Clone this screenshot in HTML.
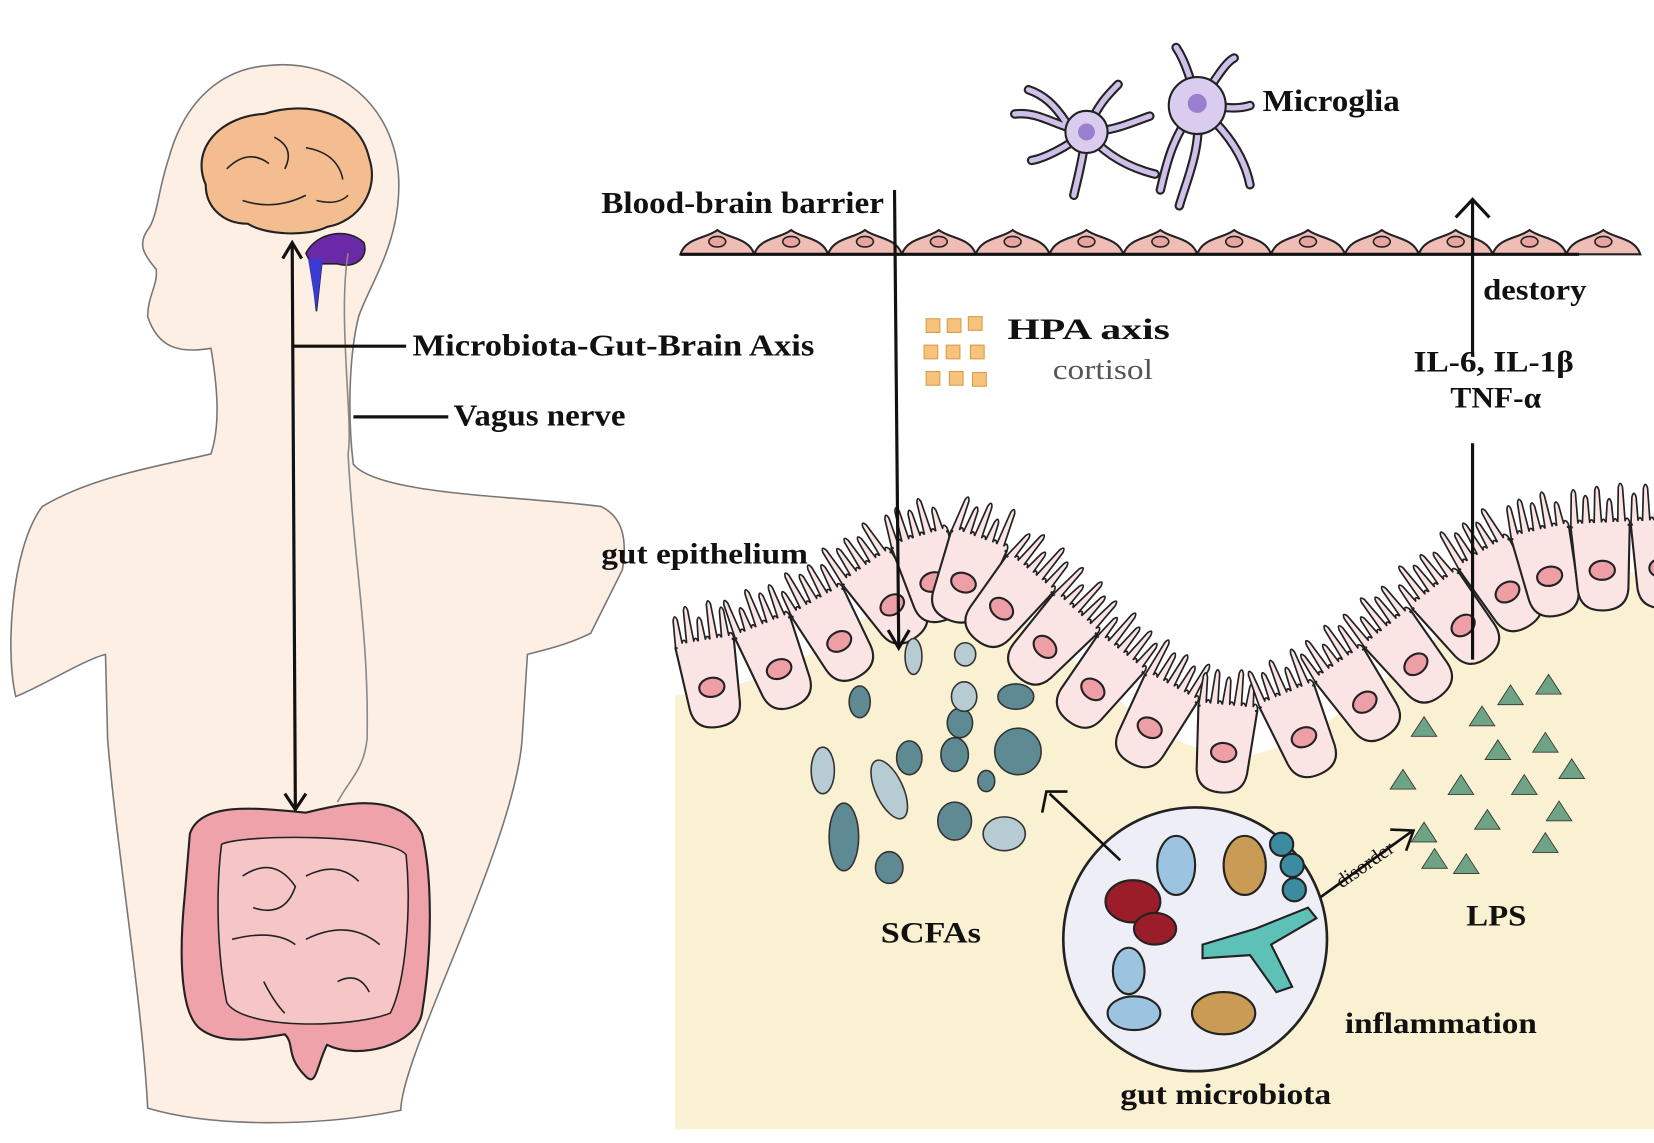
<!DOCTYPE html>
<html><head><meta charset="utf-8"><style>
html,body{margin:0;padding:0;background:#fff}
svg{display:block}
text{font-family:"Liberation Serif",serif;font-weight:bold;fill:#111}
</style></head><body>
<svg id="s" width="1654" height="1143" viewBox="0 0 1568 1083" preserveAspectRatio="none" xmlns="http://www.w3.org/2000/svg">
<rect width="1568" height="1083" fill="#fff"/>
<path d="M255,62 C320,55 375,100 378,170 C380,230 350,270 340,300 C330,340 330,400 335,440 C360,470 500,470 570,480 C590,490 595,510 590,540 L560,600 C540,610 520,615 500,620 L495,700 C488,800 380,1000 380,1052 C300,1068 200,1068 140,1050 C135,950 110,800 102,700 L100,620 C80,625 40,650 15,660 C5,620 10,520 40,480 C90,450 160,440 200,430 C210,400 205,360 200,330 C170,335 150,330 140,300 C140,280 150,270 148,255 C135,240 130,230 142,215 C150,200 150,180 160,150 C175,95 210,65 255,62 Z" fill="#fdefe3" stroke="#777" stroke-width="1.5"/>
<path d="M195,175 C180,140 210,110 250,108 C290,95 340,105 350,150 C360,180 340,210 310,215 C290,225 250,222 235,212 C210,212 195,195 195,175 Z" fill="#f3bd8f" stroke="#222" stroke-width="2"/>
<path d="M215,160 q20,-20 40,-5 M260,130 q20,10 10,30 M290,140 q30,5 35,30 M230,190 q30,10 60,-5 M300,190 q20,5 30,-5" fill="none" stroke="#222" stroke-width="1.5"/>
<path d="M290,240 C300,220 330,215 345,230 C350,245 335,255 320,250 L305,250 L300,295 L295,250 Z" fill="#6a2aa8" stroke="#222" stroke-width="1.5"/>
<path d="M292,245 L300,295 L306,245 Z" fill="#3a3ad0"/>
<path d="M330,240 C320,300 335,400 330,430 C335,530 350,600 348,700 C345,730 330,740 320,760" fill="none" stroke="#888" stroke-width="1.5"/>
<line x1="277" y1="232" x2="280" y2="765" stroke="#111" stroke-width="3"/>
<path d="M268,245 L277,230 L286,245 M270,752 L280,767 L290,752" fill="none" stroke="#111" stroke-width="3"/>
<line x1="278" y1="328" x2="385" y2="328" stroke="#111" stroke-width="3"/>
<line x1="335" y1="395" x2="425" y2="395" stroke="#111" stroke-width="3"/>
<text x="391" y="337" font-size="29" textLength="381" lengthAdjust="spacingAndGlyphs">Microbiota-Gut-Brain Axis</text>
<text x="430" y="403" font-size="29" textLength="163" lengthAdjust="spacingAndGlyphs">Vagus nerve</text>
<path d="M180,790 C190,760 240,765 290,770 C330,760 380,750 400,790 C410,830 410,900 400,960 C395,990 340,1005 310,990 C300,1010 300,1030 290,1020 C270,1000 280,990 270,980 C240,985 210,990 190,975 C170,960 170,900 175,850 Z" fill="#f0a2aa" stroke="#222" stroke-width="2"/>
<path d="M210,800 C230,790 370,790 385,810 C390,860 385,930 370,960 C330,975 230,975 215,950 C205,900 205,840 210,800 Z" fill="#f6c6c6" stroke="#222" stroke-width="1.5"/>
<path d="M230,830 q30,-20 50,10 q-10,30 -40,20 M290,830 q30,-15 50,5 M220,890 q40,-10 60,5 M290,890 q40,-20 70,5 M250,930 q10,20 20,30 M320,930 q20,-10 30,10" fill="none" stroke="#222" stroke-width="1.5"/>
<g id="epi"></g>
<g id="bbb"></g>
<line x1="645" y1="241" x2="1497" y2="241" stroke="#111" stroke-width="3"/>
<text x="570" y="202" font-size="29" textLength="268" lengthAdjust="spacingAndGlyphs">Blood-brain barrier</text>
<line x1="848" y1="180" x2="852" y2="612" stroke="#111" stroke-width="3"/>
<path d="M842,597 L852,614 L862,597" fill="none" stroke="#111" stroke-width="3"/>
<line x1="1396" y1="625" x2="1396" y2="420" stroke="#111" stroke-width="3"/>
<line x1="1396" y1="338" x2="1396" y2="190" stroke="#111" stroke-width="3"/>
<path d="M1380,206 L1396,189 L1412,206" fill="none" stroke="#111" stroke-width="3"/>
<text x="1406" y="284" font-size="28" textLength="98" lengthAdjust="spacingAndGlyphs">destory</text>
<text x="1340" y="352" font-size="28" textLength="152" lengthAdjust="spacingAndGlyphs">IL-6, IL-1β</text>
<text x="1375" y="386" font-size="28" textLength="86" lengthAdjust="spacingAndGlyphs">TNF-α</text>
<text x="1197" y="105" font-size="29" textLength="130" lengthAdjust="spacingAndGlyphs">Microglia</text>
<g fill="none" stroke="#222" stroke-width="9" stroke-linecap="round">
<path id="mg" d="M1030,125 C1000,120 985,105 962,108 M1010,115 C1000,100 990,90 975,85 M1030,125 C1040,100 1050,90 1060,80 M1030,125 C1055,125 1075,115 1090,110 M1030,125 C1010,140 990,150 978,152 M1030,125 C1050,150 1075,160 1095,165 M1030,125 C1025,160 1020,175 1018,185 M1135,100 C1110,130 1105,160 1100,180 M1135,100 C1140,140 1125,170 1118,195 M1135,100 C1165,125 1180,150 1185,175 M1135,100 C1130,80 1125,60 1115,45 M1135,100 C1150,80 1160,60 1170,55 M1135,100 C1155,100 1170,105 1185,100"/>
</g>
<use href="#mg" fill="none" stroke="#cfc0ea" stroke-width="5" stroke-linecap="round"/>
<circle cx="1030" cy="125" r="20" fill="#d9ccef" stroke="#222" stroke-width="2"/>
<circle cx="1135" cy="100" r="27" fill="#d9ccef" stroke="#222" stroke-width="2"/>
<circle cx="1030" cy="125" r="8" fill="#9b7fcf"/><circle cx="1135" cy="98" r="9" fill="#9b7fcf"/>
<g fill="#f7c27a" stroke="#d89a4a" stroke-width="1">
<rect x="878" y="302" width="13" height="13"/><rect x="898" y="302" width="13" height="13"/><rect x="918" y="300" width="13" height="13"/>
<rect x="876" y="327" width="13" height="13"/><rect x="897" y="327" width="13" height="13"/><rect x="920" y="327" width="13" height="13"/>
<rect x="878" y="352" width="13" height="13"/><rect x="900" y="352" width="13" height="13"/><rect x="922" y="353" width="13" height="13"/>
</g>
<text x="955" y="321" font-size="28" textLength="154" lengthAdjust="spacingAndGlyphs">HPA axis</text>
<text x="998" y="359" font-size="27" textLength="95" lengthAdjust="spacingAndGlyphs" style="font-weight:normal;fill:#555">cortisol</text>
<text x="570" y="534" font-size="28" textLength="196" lengthAdjust="spacingAndGlyphs">gut epithelium</text>
<g fill="#5e8a94" stroke="#333" stroke-width="1.5">
<ellipse cx="910" cy="685" rx="12" ry="14"/><ellipse cx="862" cy="718" rx="12" ry="16"/><ellipse cx="905" cy="715" rx="13" ry="16"/>
<ellipse cx="965" cy="712" rx="22" ry="22"/><ellipse cx="963" cy="660" rx="17" ry="12"/><ellipse cx="800" cy="793" rx="14" ry="32"/>
<ellipse cx="905" cy="778" rx="16" ry="18"/><ellipse cx="935" cy="740" rx="8" ry="10"/><ellipse cx="843" cy="822" rx="13" ry="15"/>
<ellipse cx="815" cy="665" rx="10" ry="15"/>
</g>
<g fill="#b7cbd2" stroke="#333" stroke-width="1.5">
<ellipse cx="866" cy="622" rx="8" ry="17"/><ellipse cx="915" cy="620" rx="10" ry="11"/>
<ellipse cx="914" cy="660" rx="12" ry="14"/><ellipse cx="780" cy="730" rx="11" ry="22"/><ellipse cx="843" cy="748" rx="13" ry="30" transform="rotate(-25 843 748)"/>
<ellipse cx="952" cy="790" rx="20" ry="16"/>
</g>
<text x="835" y="893" font-size="28" textLength="95" lengthAdjust="spacingAndGlyphs">SCFAs</text>
<g fill="#6fa386" stroke="#333" stroke-width="0.8" id="lps"></g>
<text x="1390" y="877" font-size="28" textLength="57" lengthAdjust="spacingAndGlyphs">LPS</text>
<circle cx="1133" cy="890" r="125" fill="#eeeef6" stroke="#222" stroke-width="2.5"/>
<ellipse cx="1074" cy="854" rx="26" ry="20" fill="#9b1d2a" stroke="#222" stroke-width="2"/>
<ellipse cx="1095" cy="880" rx="20" ry="15" fill="#9b1d2a" stroke="#222" stroke-width="2"/>
<ellipse cx="1115" cy="820" rx="18" ry="28" fill="#9cc4e0" stroke="#222" stroke-width="2"/>
<ellipse cx="1070" cy="920" rx="15" ry="22" fill="#9cc4e0" stroke="#222" stroke-width="2"/>
<ellipse cx="1075" cy="960" rx="25" ry="16" fill="#9cc4e0" stroke="#222" stroke-width="2"/>
<ellipse cx="1180" cy="820" rx="20" ry="28" fill="#c99b55" stroke="#222" stroke-width="2"/>
<ellipse cx="1160" cy="960" rx="30" ry="20" fill="#c99b55" stroke="#222" stroke-width="2"/>
<circle cx="1215" cy="800" r="11" fill="#3b8ca0" stroke="#222" stroke-width="2"/><circle cx="1225" cy="820" r="11" fill="#3b8ca0" stroke="#222" stroke-width="2"/><circle cx="1227" cy="843" r="11" fill="#3b8ca0" stroke="#222" stroke-width="2"/>
<path d="M1140,895 L1190,880 L1240,860 L1248,870 L1205,895 L1225,935 L1210,940 L1185,905 L1140,908 Z" fill="#5ec1b8" stroke="#222" stroke-width="2"/>
<text x="1062" y="1046" font-size="28" textLength="200" lengthAdjust="spacingAndGlyphs">gut microbiota</text>
<text x="1275" y="979" font-size="28" textLength="182" lengthAdjust="spacingAndGlyphs">inflammation</text>
<path d="M1062,815 L995,752" stroke="#111" stroke-width="2.5"/>
<path d="M988,770 L992,750 L1012,750" fill="none" stroke="#111" stroke-width="2.5"/>
<path d="M1252,850 L1338,788" stroke="#111" stroke-width="2.5"/>
<path d="M1318,786 L1340,787 L1333,806" fill="none" stroke="#111" stroke-width="2.5"/>
<text x="1272" y="842" font-size="19" style="font-weight:normal" transform="rotate(-35 1272 842)">disorder</text>
</svg>
<script>
var NS="http://www.w3.org/2000/svg";
function el(p,t,a){var e=document.createElementNS(NS,t);for(var k in a)e.setAttribute(k,a[k]);p.appendChild(e);return e;}
var b=document.getElementById('bbb');
for(var x=645;x<1495;x+=70){
 el(b,'path',{d:'M'+x+',241 C'+(x+5)+',225 '+(x+25)+',226 '+(x+35)+',218 C'+(x+45)+',226 '+(x+65)+',225 '+(x+70)+',241 Z',fill:'#efbcb6',stroke:'#222','stroke-width':2});
 el(b,'ellipse',{cx:x+35,cy:229,rx:8,ry:5,fill:'#e8a4a0',stroke:'#222','stroke-width':1.5});
}
var P=[[600,620],[700,605],[780,570],[840,525],[885,505],[935,512],[990,555],[1060,620],[1120,660],[1175,675],[1235,655],[1300,610],[1360,560],[1420,515],[1480,500],[1600,495]];
function yt(x){for(var i=0;i<P.length-1;i++){if(x<=P[i+1][0]){var t=(x-P[i][0])/(P[i+1][0]-P[i][0]);return P[i][1]+t*(P[i+1][1]-P[i][1]);}}return 495;}
function ys(x){var s=0;for(var k=-20;k<=20;k+=4)s+=yt(x+k);return s/11;}
var g=document.getElementById('epi');
var d='M640,1070 L640,'+(ys(640)+45);
for(var x=640;x<=1568;x+=4)d+=' L'+x+','+(ys(x)+45);
d+=' L1568,1070 Z';
el(g,'path',{d:d,fill:'#faf0d2'});
var pos=[],acc=0,step=57,px=668,py=ys(668);pos.push(668);
for(var x=668;x<1600;x+=1){var y=ys(x);acc+=Math.hypot(x-px,y-py);px=x;py=y;if(acc>=step){pos.push(x);acc=0;}}
pos.forEach(function(cx,i){
 var y=ys(cx);
 var ang=Math.atan2(ys(cx+25)-ys(cx-25),50)*180/Math.PI;
 var c=el(g,'g',{transform:'translate('+cx+','+y+') rotate('+ang+')'});
 var vd='M-28,2';
 var hs=[30,38,26,40,32,36];
 for(var k=0;k<5;k++){var xx=-28+k*11.2;var h=hs[(k+i)%6];vd+=' L'+(xx+2)+',-'+(h-4)+' Q'+(xx+4)+',-'+(h+3)+' '+(xx+6)+',-'+(h-4)+' L'+(xx+7)+',-4 Q'+(xx+9)+',-9 '+(xx+11.2)+',-3';}
 vd+=' L28,2 Z';
 el(c,'path',{d:vd,fill:'#fbe4e4',stroke:'#222','stroke-width':1.6,'stroke-linejoin':'round'});
 el(c,'path',{d:'M-28,0 L-24,60 Q-22,80 0,80 Q22,80 24,60 L28,0 Z',fill:'#fbe4e4',stroke:'#222','stroke-width':2});
 el(c,'rect',{x:-26,y:-3,width:52,height:5,fill:'#fbe4e4'});
 el(c,'ellipse',{cx:0,cy:42,rx:12,ry:9,fill:'#ee9fa6',stroke:'#222','stroke-width':2});
});
var L=[[1432,660],[1468,650],[1350,690],[1405,680],[1420,712],[1465,705],[1330,740],[1385,745],[1445,745],[1490,730],[1350,790],[1410,778],[1478,770],[1360,815],[1465,800],[1390,820]];
var l=document.getElementById('lps');
L.forEach(function(p){var s=11;el(l,'path',{d:'M'+p[0]+','+(p[1]-s)+' L'+(p[0]+s*1.1)+','+(p[1]+s*0.7)+' L'+(p[0]-s*1.1)+','+(p[1]+s*0.7)+' Z'});});
</script>
</body></html>
